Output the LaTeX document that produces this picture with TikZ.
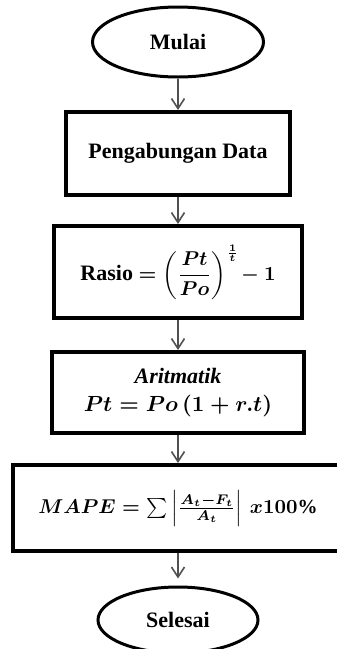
\documentclass[tikz,border=0pt]{standalone}
\definecolor{arrowgray}{RGB}{80,80,80}
\usepackage{amsmath,amssymb}
\usepackage{fontspec}
\setmainfont{Liberation Serif}
\usepackage{tikz}
\usetikzlibrary{shapes.geometric,arrows.meta,positioning}

\tikzset{
  terminal/.style={ellipse, draw=black, line width=1.5pt, inner sep=0pt,
    font=\fontsize{11}{13}\selectfont\bfseries},
  process/.style={rectangle, draw=black, line width=2pt, inner sep=0pt, align=center,
    font=\fontsize{11}{14}\selectfont\bfseries\boldmath},
  flow/.style={draw=arrowgray, line width=0.8pt, -{Straight Barb[length=5pt,width=6.5pt]}}
}

\begin{document}
\begin{tikzpicture}[x=0.5pt,y=-0.5pt]
            \useasboundingbox (0,0) rectangle (337,649);
            % start / end
            \node[terminal, minimum width=85.5pt, minimum height=35pt] (mulai) at (178,42) {Mulai};
            \node[terminal, minimum width=80pt, minimum height=33pt] (selesai) at (178,620) {Selesai};
            % process boxes
            \node[process, minimum width=112pt, minimum height=41.5pt] (gabung) at (178,153.5) {Pengabungan Data};
            \node[process, minimum width=124pt, minimum height=46pt] (rasio) at (178,272)
                {Rasio {\fontsize{10}{12}\selectfont$=\left(\dfrac{Pt}{Po}\right)^{\frac{1}{t}}\!-1$}};
            \node[process, minimum width=126pt, minimum height=40.5pt] (aritmatik) at (178,392.5)
                {$\mathit{Aritmatik}$\\ {\fontsize{10.5}{12}\selectfont$Pt=Po\,(1+r.t)$}};
            \node[process, minimum width=165pt, minimum height=43pt] (mape) at (178,508)
                {\fontsize{10}{12}\selectfont$MAPE=\sum\left|\frac{A_t-F_t}{A_t}\right|\,x100\%$};
            % connectors
            \draw[flow] (mulai) -- (gabung);
            \draw[flow] (gabung) -- (rasio);
            \draw[flow] (rasio) -- (aritmatik);
            \draw[flow] (aritmatik) -- (mape);
            \draw[flow, shorten >=3.5pt] (mape) -- (selesai);
        \end{tikzpicture}
\end{document}
